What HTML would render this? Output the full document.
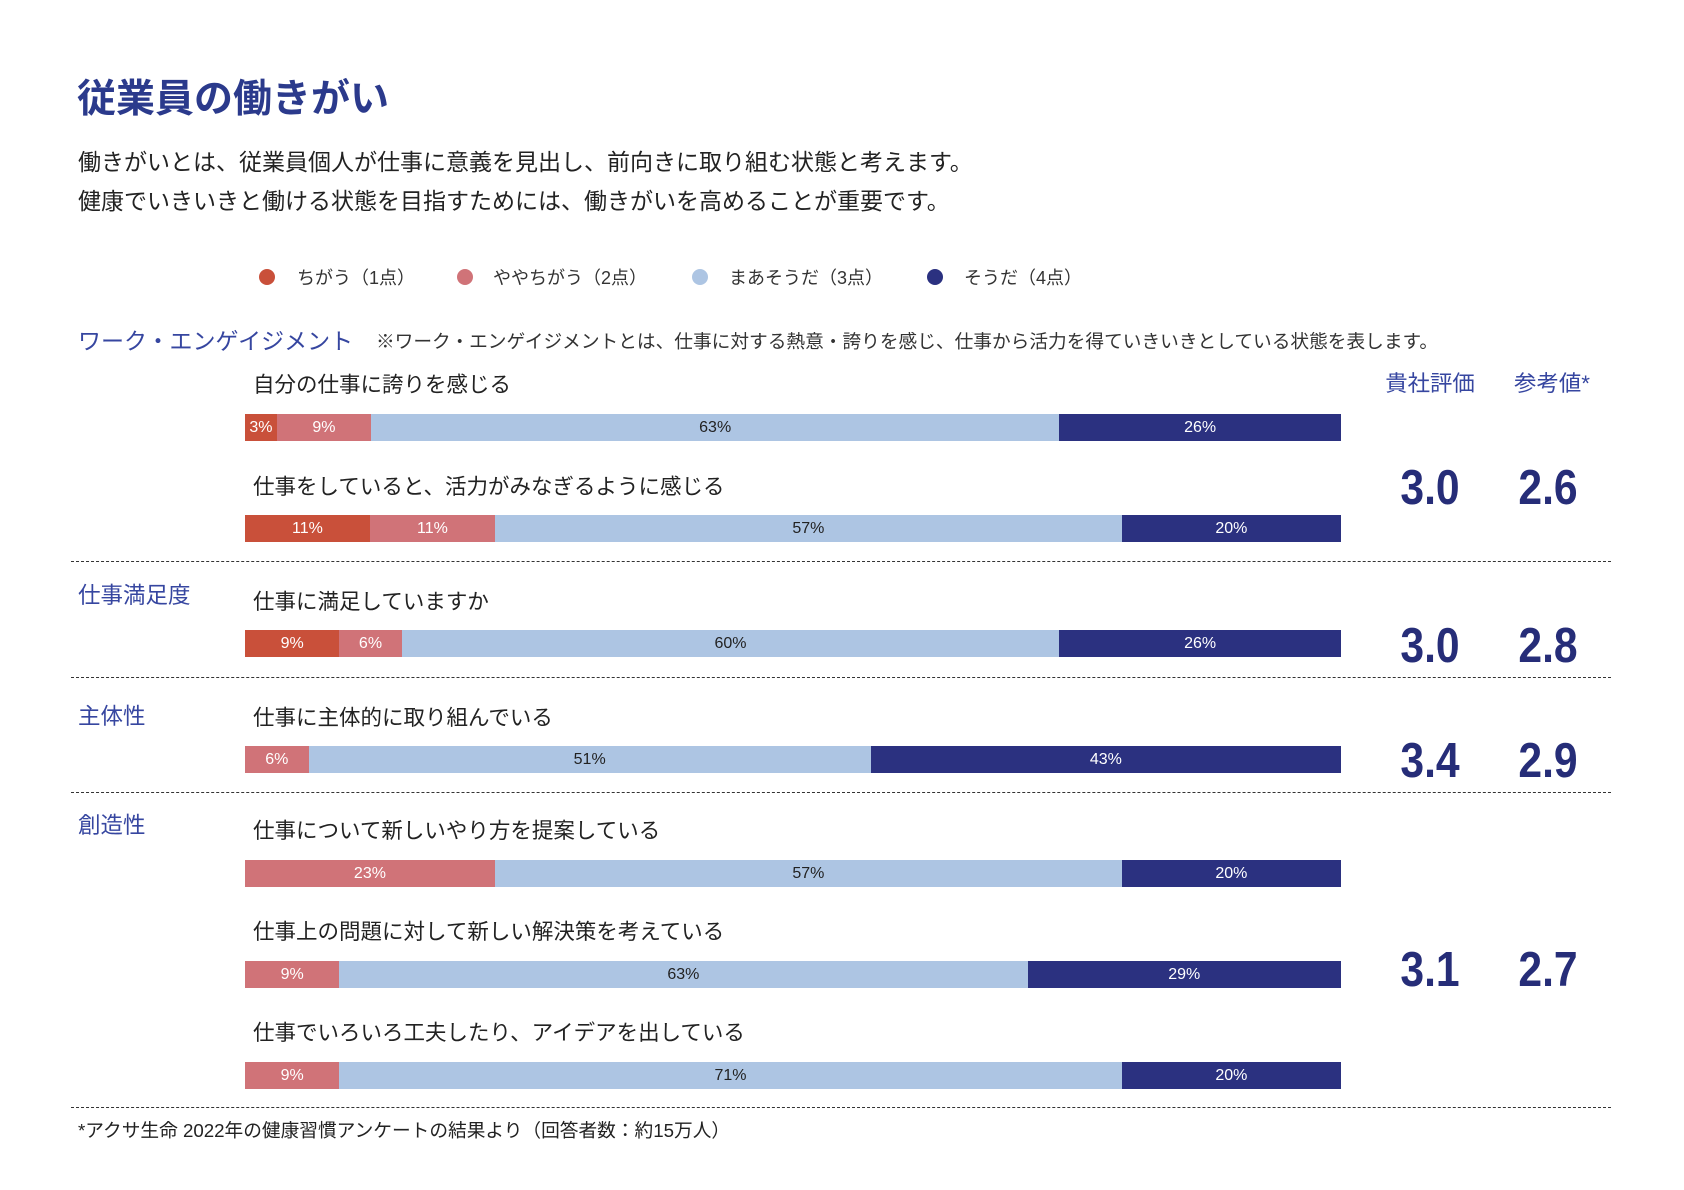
<!DOCTYPE html>
<html><head><meta charset="utf-8"><style>
*{margin:0;padding:0;box-sizing:border-box}
body{width:1684px;height:1190px;background:#fff;font-family:"Liberation Sans","Noto Sans CJK JP",sans-serif;color:#222;position:relative;overflow:hidden}
.a{position:absolute;white-space:nowrap}
.title{left:77px;top:68px;font-size:39px;font-weight:bold;color:#2b3a8c}
.p{left:78px;font-size:23px;color:#222}
.lg{top:264px;font-size:18px;color:#333}
.dot{position:absolute;width:16px;height:16px;border-radius:50%;top:269px}
.sec{left:78px;font-size:22.5px;color:#3646a0}
.q{left:253px;font-size:21.5px;color:#222}
.bar{position:absolute;left:245px;width:1096px;height:27px;display:flex}
.bar div{height:100%;text-align:center;font-size:16px;line-height:27px}
.r{background:#c9503a;color:#fff}.k{background:#d07378;color:#fff}.b{background:#adc5e3;color:#222}.n{background:#2b3180;color:#fff}
.dash{position:absolute;left:71px;width:1540px;border-top:1.5px dashed #333}
.hd{top:366px;font-size:22.4px;color:#3646a0;transform:translateX(-50%)}
.num{font-size:49px;font-weight:bold;color:#262d78;transform:translateX(-50%) scaleX(0.87)}
</style></head><body>
<div class="a title">従業員の働きがい</div>
<div class="a p" style="top:143px">働きがいとは、従業員個人が仕事に意義を見出し、前向きに取り組む状態と考えます。</div>
<div class="a p" style="top:182px">健康でいきいきと働ける状態を目指すためには、働きがいを高めることが重要です。</div>

<div class="dot" style="left:259px;background:#c9503a"></div><div class="a lg" style="left:297px">ちがう（1点）</div>
<div class="dot" style="left:457px;background:#d07378"></div><div class="a lg" style="left:493px">ややちがう（2点）</div>
<div class="dot" style="left:692px;background:#adc5e3"></div><div class="a lg" style="left:729px">まあそうだ（3点）</div>
<div class="dot" style="left:927px;background:#2b3180"></div><div class="a lg" style="left:964px">そうだ（4点）</div>

<div class="a sec" style="top:322px;font-size:23px">ワーク・エンゲイジメント</div>
<div class="a" style="left:376px;top:327px;font-size:18.7px;color:#333">※ワーク・エンゲイジメントとは、仕事に対する熱意・誇りを感じ、仕事から活力を得ていきいきとしている状態を表します。</div>

<div class="a hd" style="left:1430px">貴社評価</div>
<div class="a hd" style="left:1552px">参考値*</div>

<div class="a q" style="top:368px">自分の仕事に誇りを感じる</div>
<div class="bar" style="top:414px"><div class="r" style="width:2.9%">3%</div><div class="k" style="width:8.6%">9%</div><div class="b" style="width:62.8%">63%</div><div class="n" style="width:25.7%">26%</div></div>
<div class="a q" style="top:470px">仕事をしていると、活力がみなぎるように感じる</div>
<div class="bar" style="top:515px"><div class="r" style="width:11.4%">11%</div><div class="k" style="width:11.4%">11%</div><div class="b" style="width:57.2%">57%</div><div class="n" style="width:20%">20%</div></div>
<div class="a num" style="left:1430px;top:460px">3.0</div>
<div class="a num" style="left:1548px;top:460px">2.6</div>
<div class="dash" style="top:561px"></div>

<div class="a sec" style="top:578px">仕事満足度</div>
<div class="a q" style="top:585px">仕事に満足していますか</div>
<div class="bar" style="top:630px"><div class="r" style="width:8.6%">9%</div><div class="k" style="width:5.7%">6%</div><div class="b" style="width:60%">60%</div><div class="n" style="width:25.7%">26%</div></div>
<div class="a num" style="left:1430px;top:618px">3.0</div>
<div class="a num" style="left:1548px;top:618px">2.8</div>
<div class="dash" style="top:677px"></div>

<div class="a sec" style="top:699px">主体性</div>
<div class="a q" style="top:701px">仕事に主体的に取り組んでいる</div>
<div class="bar" style="top:746px"><div class="k" style="width:5.8%">6%</div><div class="b" style="width:51.3%">51%</div><div class="n" style="width:42.9%">43%</div></div>
<div class="a num" style="left:1430px;top:733px">3.4</div>
<div class="a num" style="left:1548px;top:733px">2.9</div>
<div class="dash" style="top:792px"></div>

<div class="a sec" style="top:808px">創造性</div>
<div class="a q" style="top:814px">仕事について新しいやり方を提案している</div>
<div class="bar" style="top:860px"><div class="k" style="width:22.8%">23%</div><div class="b" style="width:57.2%">57%</div><div class="n" style="width:20%">20%</div></div>
<div class="a q" style="top:915px">仕事上の問題に対して新しい解決策を考えている</div>
<div class="bar" style="top:961px"><div class="k" style="width:8.6%">9%</div><div class="b" style="width:62.8%">63%</div><div class="n" style="width:28.6%">29%</div></div>
<div class="a q" style="top:1016px">仕事でいろいろ工夫したり、アイデアを出している</div>
<div class="bar" style="top:1062px"><div class="k" style="width:8.6%">9%</div><div class="b" style="width:71.4%">71%</div><div class="n" style="width:20%">20%</div></div>
<div class="a num" style="left:1430px;top:942px">3.1</div>
<div class="a num" style="left:1548px;top:942px">2.7</div>
<div class="dash" style="top:1107px"></div>

<div class="a" style="left:78px;top:1116px;font-size:18.7px;color:#222">*アクサ生命 2022年の健康習慣アンケートの結果より（回答者数：約15万人）</div>
</body></html>
